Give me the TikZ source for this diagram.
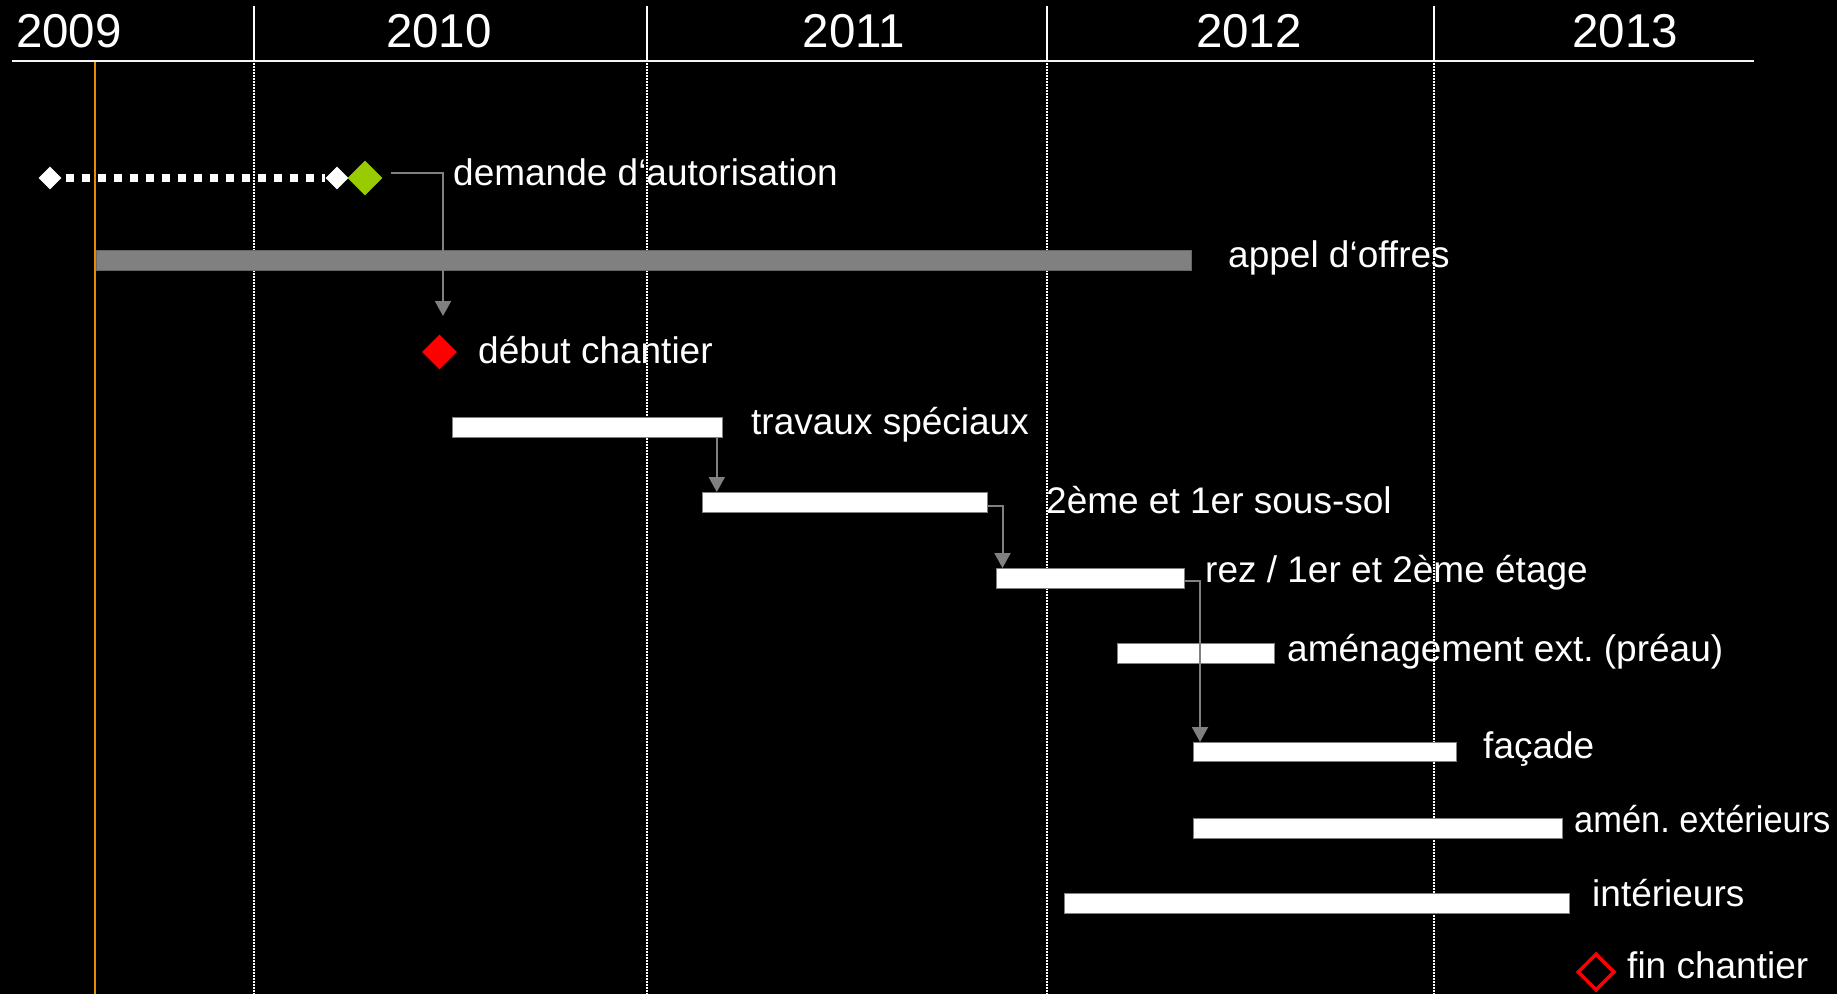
\documentclass[tikz,border=0pt]{standalone}
\usepackage{fontspec}
\setmainfont{Liberation Sans}
\usetikzlibrary{shapes.geometric,arrows.meta}
\definecolor{orangeline}{RGB}{230,140,0}
\definecolor{greenms}{RGB}{153,204,0}
\definecolor{redms}{RGB}{255,0,0}
\definecolor{bargray}{RGB}{128,128,128}
\newcommand\lblfont{\fontsize{37}{44}\selectfont}
\newcommand\yrfont{\fontsize{47.5}{56}\selectfont}
\frenchspacing
\begin{document}
\begin{tikzpicture}[x=1pt,y=-1pt,
 lbl/.style={font=\lblfont,text=white,anchor=base west,inner sep=0pt},
 yr/.style={font=\yrfont,text=white,anchor=base,inner sep=0pt},
 bar/.style={rectangle,fill=white,draw=bargray,line width=0.8pt,inner sep=0pt,anchor=north west,minimum height=20pt},
 conn/.style={draw=bargray,line width=2pt,-{Triangle[width=16pt,length=15pt]}},
 sep/.style={white,line width=1.5pt},
 sepdot/.style={white,line width=1.5pt,dash pattern=on 1.5pt off 1.5pt},
 ms/.style={diamond,aspect=1,inner sep=0pt},
]
\useasboundingbox (0,0) rectangle (1837,994);
\fill[black] (0,0) rectangle (1837,994);

% header
\node[yr] (y2009) at (69,47) {2009};
\node[yr] (y2010) at (439,47) {2010};
\node[yr] (y2011) at (854,47) {2011};
\node[yr] (y2012) at (1249,47) {2012};
\node[yr] (y2013) at (1625,47) {2013};
\draw[white!92!gray,line width=2.5pt] (12,61) -- (1754,61);

% labels
\node[lbl] (ldem) at (453,185) {demande d‘autorisation};
\node[lbl] (lapp) at (1228,267) {appel d‘offres};
\node[lbl] (ldeb) at (478,363) {début chantier};
\node[lbl] (ltrav) at (751,434) {travaux spéciaux};
\node[lbl] (lsous) at (1046,513) {2ème et 1er sous-sol};
\node[lbl] (lrez) at (1205,582) {rez / 1er et 2ème étage};
\node[lbl] (lamen) at (1287,661) {aménagement ext. (préau)};
\node[lbl] (lfac) at (1483,758) {façade};
\node[lbl] (lext) at (1574,832) {\addfontfeature{FakeStretch=0.93}amén. extérieurs};
\node[lbl] (lint) at (1592,906) {intérieurs};
\node[lbl] (lfin) at (1627,978) {fin chantier};

% year separators
\foreach \xx in {254,647,1047,1434}{
  \draw[sep] (\xx,6) -- (\xx,60);
  \draw[sepdot] (\xx,63) -- (\xx,994);
}
\draw[orangeline,line width=2.5pt] (95,62) -- (95,994);

% demande d'autorisation
\node[ms,minimum size=23pt] (wd1) at (50,178) {};
\node[ms,minimum size=23pt] (wd2) at (337,178) {};
\draw[white,line width=7.5pt,dash pattern=on 7.5pt off 8.5pt] ([xshift=4.5pt]wd1.east) -- (wd2.west);
\node[ms,fill=white,minimum size=23pt] at (wd1) {};
\node[ms,fill=white,minimum size=23pt] at (wd2) {};
\node[ms,fill=greenms,minimum size=35pt] (gd) at (365,178) {};

% appel d'offres
\node[rectangle,fill=bargray,draw=bargray!80!black,line width=0.8pt,inner sep=0pt,anchor=north west,minimum width=1095pt,minimum height=20pt] (app) at (96,250) {};

% debut chantier
\node[ms,fill=redms,minimum size=35pt] (debut) at (439.5,352) {};
\coordinate (dtip) at (443,316);

% bars
\node[bar,minimum width=270pt] (trav) at (452,417) {};
\node[bar,minimum width=285pt] (sous) at (702,492) {};
\node[bar,minimum width=188pt] (rez) at (996,568) {};
\node[bar,minimum width=157pt] (amen) at (1117,643) {};
\node[bar,minimum width=263pt,minimum height=19pt] (fac) at (1193,742) {};
\node[bar,minimum width=369pt] (ext) at (1193,818) {};
\node[bar,minimum width=505pt] (int) at (1064,893) {};

% fin chantier
\node[ms,draw=redms,line width=3.5pt,minimum size=37pt] (fin) at (1596,972) {};

% connectors
\draw[conn] ([xshift=8pt,yshift=5pt]gd.east) -| (dtip);
\coordinate (t1) at ([xshift=-6pt]trav.south east);
\draw[conn] (t1) -- (t1 |- sous.north);
\draw[conn] ([yshift=-4pt]sous.east) -| ([xshift=6.5pt]rez.north west);
\draw[conn] ([yshift=-3pt]rez.east) -| ([xshift=7pt]fac.north west);
\end{tikzpicture}
\end{document}
